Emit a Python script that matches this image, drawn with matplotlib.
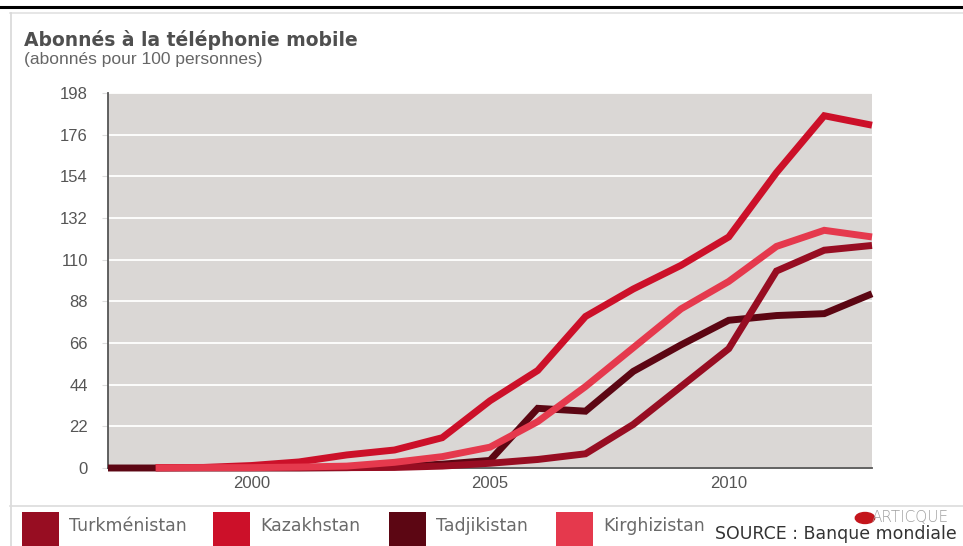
import numpy as np
import matplotlib
matplotlib.use("Agg")
import matplotlib.pyplot as plt
from matplotlib.lines import Line2D
from matplotlib.patches import Rectangle, Circle

# ---------------- data ----------------
years = list(range(1997, 2014))
nan = np.nan
tadjikistan  = [0, 0, 0, 0, 0, 0.2, 0.7, 2, 4, 31.5, 30, 51, 65, 78, 80.5, 81.5, 92]
turkmenistan = [nan, 0.1, 0.2, 0.2, 0.2, 0.2, 0.3, 1, 2.5, 4.5, 7.5, 23, 43, 63, 104, 115, 117.5]
kazakhstan   = [nan, 0.2, 0.3, 1.3, 3.2, 6.9, 9.5, 16, 35.5, 51.5, 80, 94.5, 107, 122, 156, 186, 181]
kirghizistan = [nan, 0.1, 0.2, 0.2, 0.5, 1, 3, 6, 11, 24.5, 43, 63.5, 84, 98.5, 117, 125.5, 122]

y_ticks = [0, 22, 44, 66, 88, 110, 132, 154, 176, 198]
x_ticks = [2000, 2005, 2010]

legend_labels = ["Turkménistan", "Kazakhstan", "Tadjikistan", "Kirghizistan"]
colors = {"Turkménistan": "#970d22", "Kazakhstan": "#cc1029",
          "Tadjikistan": "#5c0613", "Kirghizistan": "#e5394d"}

title = "Abonnés à la téléphonie mobile"
subtitle = "(abonnés pour 100 personnes)"
source = "SOURCE : Banque mondiale"

# ---------------- figure ----------------
W, H = 963, 546
fig = plt.figure(figsize=(W / 100, H / 100), dpi=100)
fig.patch.set_facecolor("white")

def fx(px):
    return px / W

def fy(py):
    return 1 - py / H

# decorative frame lines
fig.add_artist(Line2D([0, 1], [fy(7), fy(7)], color="black", lw=2.2, transform=fig.transFigure))
fig.add_artist(Line2D([fx(10), 1], [fy(12.5), fy(12.5)], color="#e2e2e2", lw=1.2, transform=fig.transFigure))
fig.add_artist(Line2D([fx(10.5), fx(10.5)], [fy(12.5), 0], color="#d8d8d8", lw=1.2, transform=fig.transFigure))
fig.add_artist(Line2D([fx(10), 1], [fy(506), fy(506)], color="#dcdcdc", lw=1.2, transform=fig.transFigure))

# titles
fig.text(fx(24), fy(40), title, fontsize=13.5, fontweight="bold", color="#4f4f4f",
         family="DejaVu Sans", va="center", ha="left")
fig.text(fx(24), fy(59), subtitle, fontsize=12.5, color="#666666",
         family="Liberation Sans", va="center", ha="left")

# ---------------- main axes ----------------
left, right, top, bottom = 108, 872, 93, 468
ax = fig.add_axes([fx(left), fy(bottom), fx(right - left), (bottom - top) / H])
ax.set_facecolor("#dad7d5")

series = [("Tadjikistan", tadjikistan), ("Turkménistan", turkmenistan),
          ("Kazakhstan", kazakhstan), ("Kirghizistan", kirghizistan)]
for name, vals in series:
    ax.plot(years, vals, color=colors[name], lw=5, solid_joinstyle="miter",
            solid_capstyle="butt", clip_on=False, zorder=3)

ax.set_xlim(1997, 2013)
ax.set_ylim(0, 198)
ax.set_yticks(y_ticks)
ax.set_yticklabels([str(v) for v in y_ticks])
ax.set_xticks(x_ticks)
ax.set_xticklabels([str(v) for v in x_ticks])
ax.yaxis.grid(True, color="white", lw=1.3)
ax.xaxis.grid(False)
ax.set_axisbelow(True)
for s in ["top", "right"]:
    ax.spines[s].set_visible(False)
ax.spines["left"].set_color("#555555")
ax.spines["left"].set_linewidth(1.3)
ax.spines["bottom"].set_color("#555555")
ax.spines["bottom"].set_linewidth(1.3)
ax.tick_params(axis="y", length=4.5, color="#dddddd", pad=10, labelsize=12,
               labelcolor="#555555")
ax.tick_params(axis="x", length=0, pad=6, labelsize=12, labelcolor="#555555")
for lab in ax.get_xticklabels() + ax.get_yticklabels():
    lab.set_family("Liberation Sans")

# ---------------- legend strip ----------------
box_x = [22, 213, 389, 556]
for name, bx in zip(legend_labels, box_x):
    fig.add_artist(Rectangle((fx(bx), 0), fx(37), (546 - 512) / H, color=colors[name],
                             transform=fig.transFigure, lw=0))
    fig.text(fx(bx + 47), fy(526), name, fontsize=12.5, color="#6a6a6a",
             family="DejaVu Sans", va="center", ha="left")

fig.text(fx(715), fy(539), source, fontsize=12.5, color="#333333",
         family="DejaVu Sans", va="baseline", ha="left")
fig.add_artist(Circle((fx(865), fy(518)), 5.5 / H, color="#c4161c", transform=fig.transFigure))
fig.text(fx(872), fy(517), "ARTICQUE", fontsize=11, color="#a0a0a0",
         family="DejaVu Sans", va="center", ha="left", fontweight="light")

fig.savefig("out.png", dpi=100)
